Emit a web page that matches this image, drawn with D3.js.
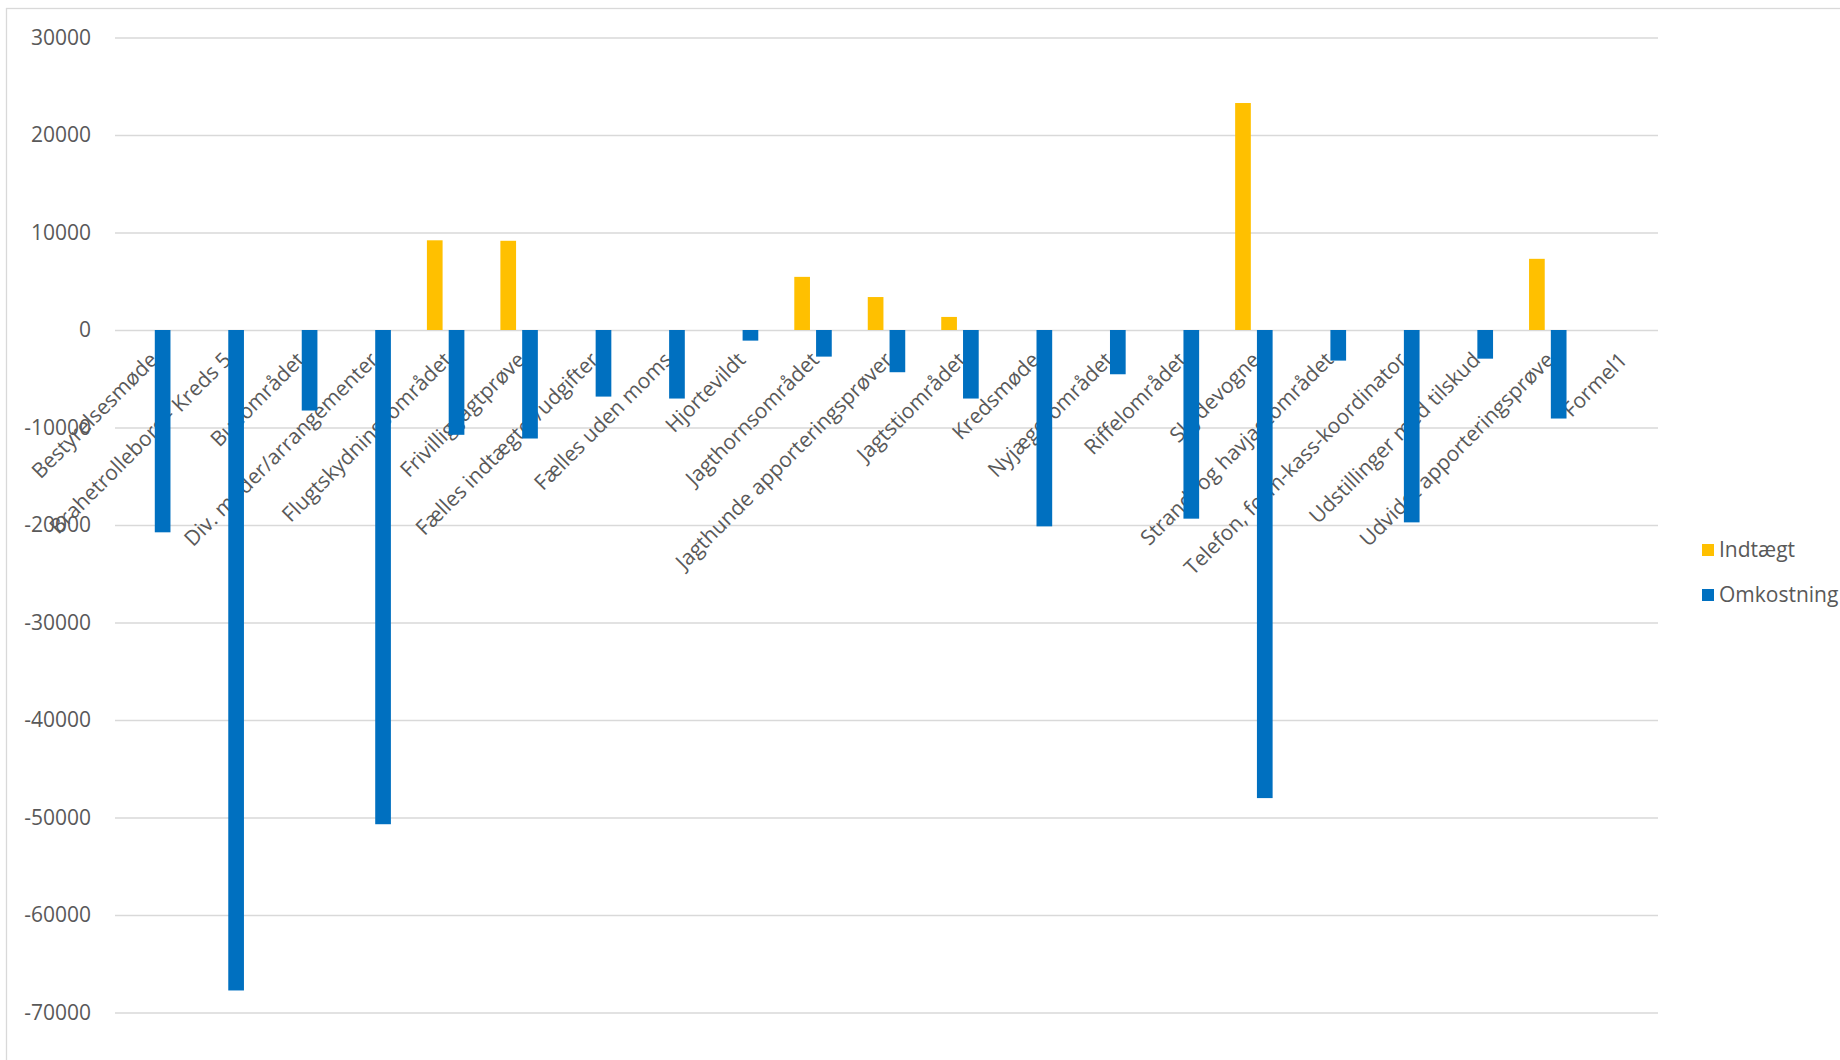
<!DOCTYPE html>
<html>
<head>
<meta charset="utf-8">
<script src="https://cdn.jsdelivr.net/npm/d3@7"></script>
<style>
  body { margin: 0; background: #fff; }
  text { font-family: "Open Sans", sans-serif; fill: #595959; }
</style>
</head>
<body>
<div id="chart"></div>
<script>
const categories = [
  "Bestyrelsesmøde", "Brahetrolleborg - Kreds 5", "Bueområdet", "Div. møder/arrangementer",
  "Flugtskydningsområdet", "Frivillig Jagtprøve", "Fælles indtægter/udgifter", "Fælles uden moms",
  "Hjortevildt", "Jagthornsområdet", "Jagthunde apporteringsprøver", "Jagtstiområdet",
  "Kredsmøde", "Nyjægerområdet", "Riffelområdet", "Skydevogne",
  "Strand- og havjagtområdet", "Telefon, form-kass-koordinator", "Udstillinger med tilskud",
  "Udvidet apporteringsprøve", "Formel1"
];
const indtaegt = [null, null, null, null, 9200, 9150, null, null, null, 5450, 3380, 1340,
  null, null, null, 23280, null, null, null, 7300, null];
const omkostning = [-20750, -67740, -8260, -50690, -10750, -11130, -6830, -7030, -1090, -2730,
  -4330, -7030, -20140, -4540, -19350, -48010, -3140, -19730, -2940, -9080, null];
const seriesNames = ["Indtægt", "Omkostning"];
const seriesColors = ["#FFC000", "#0070C0"];
const yTicks = [30000, 20000, 10000, 0, -10000, -20000, -30000, -40000, -50000, -60000, -70000];

const width = 1840, height = 1060;
const plotLeft = 115, plotRight = 1658, plotTop = 37.5, plotBottom = 1012.5;
const fontSize = "21px";

const svg = d3.select("#chart").append("svg")
  .attr("width", width).attr("height", height);

// chart frame
svg.append("rect")
  .attr("x", 6.5).attr("y", 8.5)
  .attr("width", width).attr("height", height)
  .attr("fill", "none").attr("stroke", "#d9d9d9").attr("stroke-width", 1.3);

const y = d3.scaleLinear().domain([-70000, 30000]).range([plotBottom, plotTop]);
const x0 = d3.scaleBand().domain(categories).range([plotLeft, plotRight])
  .paddingInner(0.49).paddingOuter(0.245);
const x1 = d3.scaleBand().domain(seriesNames).range([0, x0.bandwidth()]).paddingInner(0.28);

// gridlines + tick labels
const yAxis = svg.append("g")
  .attr("transform", `translate(${plotLeft},0)`)
  .call(d3.axisLeft(y).tickValues(yTicks).tickSize(-(plotRight - plotLeft)).tickPadding(24).tickFormat(d => String(d)));
yAxis.select(".domain").remove();
yAxis.selectAll(".tick line").attr("stroke", "#d9d9d9").attr("stroke-width", 1.3);
yAxis.selectAll(".tick text").style("font-size", fontSize).attr("fill", "#595959");

// category labels (drawn under the bars)
svg.append("g").selectAll("text")
  .data(categories)
  .join("text")
  .attr("transform", d => `translate(${x0(d) + x0.bandwidth() / 2 + 2},${y(0) + 26}) rotate(-45)`)
  .attr("text-anchor", "end")
  .attr("dy", "0.35em")
  .style("font-size", fontSize)
  .text(d => d);

// bars
const rows = categories.map((c, i) => ({ cat: c, vals: [indtaegt[i], omkostning[i]] }));
const groups = svg.append("g").selectAll("g")
  .data(rows)
  .join("g")
  .attr("transform", d => `translate(${x0(d.cat)},0)`);

groups.selectAll("rect")
  .data(d => d.vals.map((v, k) => ({ key: seriesNames[k], v, k })).filter(e => e.v != null))
  .join("rect")
  .attr("x", e => x1(e.key))
  .attr("width", x1.bandwidth())
  .attr("y", e => y(Math.max(0, e.v)))
  .attr("height", e => Math.abs(y(e.v) - y(0)))
  .attr("fill", e => seriesColors[e.k]);

// legend
const legend = svg.append("g").attr("transform", "translate(1702,550)");
const li = legend.selectAll("g").data(seriesNames).join("g")
  .attr("transform", (d, i) => `translate(0,${i * 45})`);
li.append("rect").attr("x", 0).attr("y", -6).attr("width", 12).attr("height", 12)
  .attr("fill", (d, i) => seriesColors[i]);
li.append("text").attr("x", 17).attr("dy", "0.35em").style("font-size", fontSize).text(d => d);
</script>
</body>
</html>
